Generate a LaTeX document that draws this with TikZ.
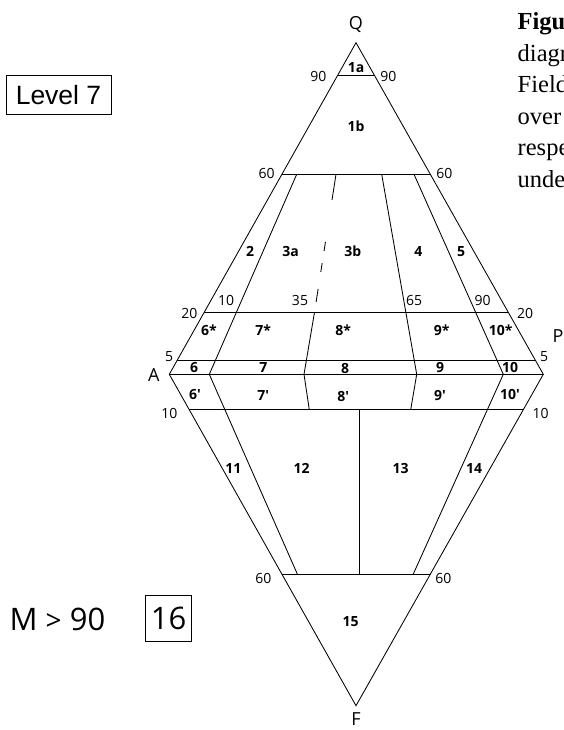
\documentclass[tikz,border=0pt]{standalone}
\usepackage{fontspec}
\setmainfont{Liberation Serif}
\newfontfamily\labfont{Open Sans}
\newfontfamily\arialfont{Liberation Sans}
\usetikzlibrary{calc}
\begin{document}
\begin{tikzpicture}[x=1pt,y=-1pt,
  edge/.style={line width=0.85pt, line join=miter},
  num/.style={inner sep=0, font=\labfont\fontsize{14}{16}\selectfont},
  fld/.style={inner sep=0, font=\labfont\bfseries\fontsize{14}{16}\selectfont},
  vtx/.style={inner sep=0, font=\labfont\fontsize{18}{20}\selectfont},
  big/.style={inner sep=0, font=\labfont\fontsize{31}{34}\selectfont},
  captxt/.style={inner sep=0, anchor=base west, font=\fontsize{24.5}{30}\selectfont}]
\useasboundingbox (0,0) rectangle (564,730);
% vertices
\coordinate (Q) at (356,42.7);
\coordinate (A) at (169.3,374.3);
\coordinate (P) at (543.3,374.3);
\coordinate (F) at (356,705.7);
% horizontal line ends
\coordinate (l90) at ($(Q)!0.0989!(A)$);
\coordinate (r90) at ($(Q)!0.0989!(P)$);
\coordinate (l60) at ($(Q)!0.3969!(A)$);
\coordinate (r60) at ($(Q)!0.3969!(P)$);
\coordinate (l20) at ($(Q)!0.8130!(A)$);
\coordinate (r20) at ($(Q)!0.8130!(P)$);
\coordinate (l5) at ($(Q)!0.9569!(A)$);
\coordinate (r5) at ($(Q)!0.9569!(P)$);
\coordinate (l10) at ($(A)!0.1068!(F)$);
\coordinate (r10) at ($(P)!0.1068!(F)$);
\coordinate (lb60) at ($(A)!0.6026!(F)$);
\coordinate (rb60) at ($(P)!0.6026!(F)$);
% interior dividers
\coordinate (a10t) at (296.7,174.3);
\coordinate (a10m) at (209.3,374.3);
\coordinate (a10b) at (297.3,574);
\coordinate (a35t) at (336,174.3);
\coordinate (a35u) at (314.5,312.3);
\coordinate (a35m) at (304,374.3);
\coordinate (a35b) at (309.3,409.7);
\coordinate (a65t) at (381.7,174.3);
\coordinate (a65m) at (416.7,374.3);
\coordinate (a65b) at (410.7,409.7);
\coordinate (a90t) at (414,174.3);
\coordinate (a90m) at (503.3,374.3);
\coordinate (a90b) at (413.3,574);
\coordinate (vt) at (359.5,409.7);
\coordinate (vb) at (359.5,574);
% outline
\draw[edge] (Q) -- (A) -- (F) -- (P) -- cycle;
\draw[edge] (A) -- (P);
\draw[edge] (l90) -- (r90);
\draw[edge] (l60) -- (r60);
\draw[edge] (l20) -- (r20);
\draw[edge] (l5) -- (r5);
\draw[edge] (l10) -- (r10);
\draw[edge] (lb60) -- (rb60);
% dividers
\draw[edge] (a10t) -- (a10m) -- (a10b);
\draw[edge] (a35u) -- (a35m) -- (a35b);
\draw[edge] (a65t) -- (a65m) -- (a65b);
\draw[edge] (a90t) -- (a90m) -- (a90b);
\draw[edge] (vt) -- (vb);
% dashed part of the 35 divider
\draw[edge] ($(a35t)!0!(a35u)$) -- ($(a35t)!0.186!(a35u)$);
\draw[edge] ($(a35t)!0.49!(a35u)$) -- ($(a35t)!0.556!(a35u)$);
\draw[edge] ($(a35t)!0.643!(a35u)$) -- ($(a35t)!0.708!(a35u)$);
\draw[edge] ($(a35t)!0.831!(a35u)$) -- ($(a35t)!0.925!(a35u)$);
% vertex labels
\node[vtx] (nQ) at (356,25) {Q};
\node[vtx] (nA) at (153.7,374.7) {A};
\node[vtx,anchor=west] (nP) at (552.5,336) {P};
\node[vtx] (nF) at (356,719.5) {F};
% percentage labels
\node[num] (p90l) at (318.3,76.7) {90};
\node[num] (p90r) at (388.3,76.7) {90};
\node[num] (p60l) at (266.7,173.3) {60};
\node[num] (p60r) at (444.3,173.3) {60};
\node[num] (p10u) at (226.2,300.7) {10};
\node[num] (p35) at (300,300.7) {35};
\node[num] (p65) at (414,300.7) {65};
\node[num] (p90u) at (482.7,300.7) {90};
\node[num] (p20l) at (189.3,313.3) {20};
\node[num] (p20r) at (525,313.3) {20};
\node[num] (p5l) at (169.2,356.5) {5};
\node[num] (p5r) at (544.2,356.5) {5};
\node[num] (p10l) at (169.3,413.3) {10};
\node[num] (p10r) at (540.7,413.3) {10};
\node[num] (p60bl) at (263.3,578.8) {60};
\node[num] (p60br) at (443.3,578.8) {60};
% field labels
\node[fld] (f1a) at (356,67.7) {1a};
\node[fld] (f1b) at (356,126) {1b};
\node[fld] (f2) at (250,251.7) {2};
\node[fld] (f3a) at (290.7,251.7) {3a};
\node[fld] (f3b) at (352.7,251.7) {3b};
\node[fld] (f4) at (418.3,251.7) {4};
\node[fld] (f5) at (461,251.7) {5};
\node[fld] (f6s) at (209,330) {6*};
\node[fld] (f7s) at (263.3,330) {7*};
\node[fld] (f8s) at (343.3,330.5) {8*};
\node[fld] (f9s) at (441.7,330.5) {9*};
\node[fld] (f10s) at (500.7,330) {10*};
\node[fld] (f6) at (194,367.8) {6};
\node[fld] (f7) at (263.3,367.3) {7};
\node[fld] (f8) at (345,368.3) {8};
\node[fld] (f9) at (440,367.3) {9};
\node[fld] (f10) at (510,367.3) {10};
\node[fld] (f6p) at (195,394.3) {6'};
\node[fld] (f7p) at (263.3,395) {7'};
\node[fld] (f8p) at (343.3,396.7) {8'};
\node[fld] (f9p) at (440,396) {9'};
\node[fld] (f10p) at (510,394.3) {10'};
\node[fld] (f11) at (233.3,468.3) {11};
\node[fld] (f12) at (301.7,468.3) {12};
\node[fld] (f13) at (400.7,468.3) {13};
\node[fld] (f14) at (474,468.3) {14};
\node[fld] (f15) at (350.5,621.7) {15};
% side boxes
\node[draw, line width=0.85pt, minimum width=105, minimum height=39.3, inner sep=0,
  font=\arialfont\fontsize{26.5}{30}\selectfont] (lev) at (58.5,94.7) {Level 7};
\node[big, anchor=base west] (mt) at (9.5,630) {M {\fontsize{28}{30}\selectfont >} 90};
\node[big, draw, line width=0.85pt, minimum size=45.5] (b16) at (168.5,618.5) {16};
% clipped caption
\node[captxt, font=\bfseries\fontsize{24.5}{30}\selectfont] (c1) at (517.5,29.5) {Figu};
\node[captxt] (c2) at (517.5,61.1) {diagr};
\node[captxt] (c3) at (517.5,92.7) {Field};
\node[captxt] (c4) at (517.5,124.3) {over};
\node[captxt] (c5) at (517.5,155.9) {respe};
\node[captxt] (c6) at (517.5,187.5) {unde};
\end{tikzpicture}
\end{document}
